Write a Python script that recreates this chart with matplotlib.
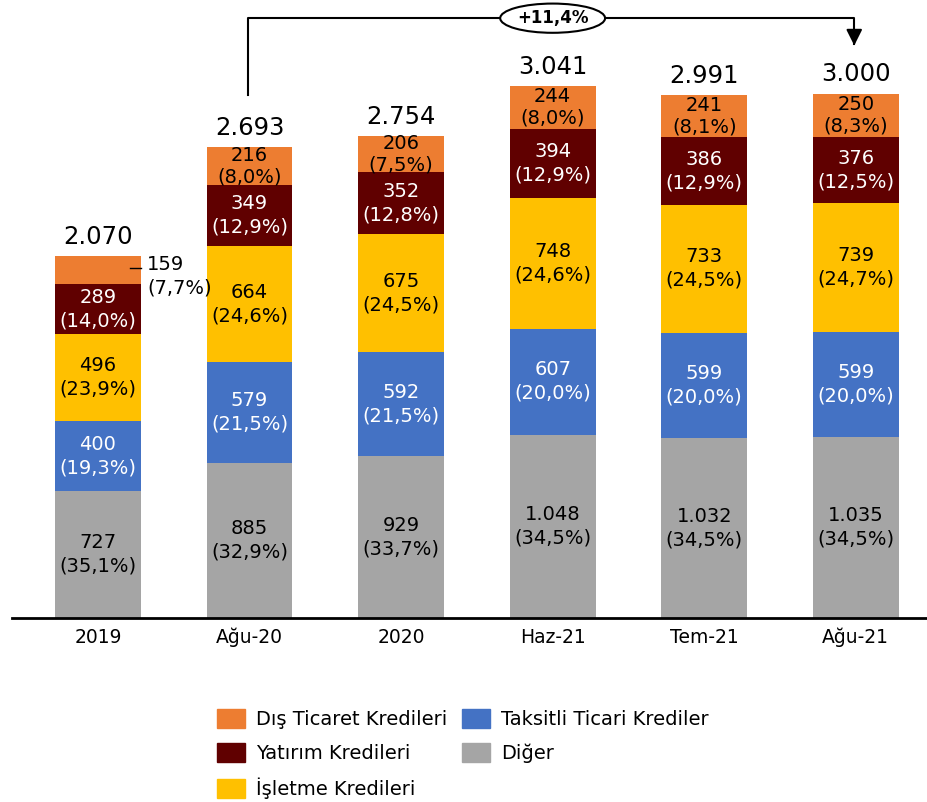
import matplotlib
matplotlib.use('Agg')
from matplotlib import pyplot as plt
from matplotlib.patches import Patch
import numpy as np

plt.rcParams['font.family'] = ['DejaVu Sans']

periods = ['2019', 'Ağu-20', '2020', 'Haz-21', 'Tem-21', 'Ağu-21']
totals = [2070, 2693, 2754, 3041, 2991, 3000]
total_labels = ['2.070', '2.693', '2.754', '3.041', '2.991', '3.000']

# bottom to top
series_names = ['Diğer', 'Taksitli Ticari Krediler', 'İşletme Kredileri',
                'Yatırım Kredileri', 'Dış Ticaret Kredileri']
diger = [727, 885, 929, 1048, 1032, 1035]
taksitli = [400, 579, 592, 607, 599, 599]
isletme = [496, 664, 675, 748, 733, 739]
yatirim = [289, 349, 352, 394, 386, 376]
dis = [159, 216, 206, 244, 241, 250]

diger_pct = ['35,1%', '32,9%', '33,7%', '34,5%', '34,5%', '34,5%']
taksitli_pct = ['19,3%', '21,5%', '21,5%', '20,0%', '20,0%', '20,0%']
isletme_pct = ['23,9%', '24,6%', '24,5%', '24,6%', '24,5%', '24,7%']
yatirim_pct = ['14,0%', '12,9%', '12,8%', '12,9%', '12,9%', '12,5%']
dis_pct = ['7,7%', '8,0%', '7,5%', '8,0%', '8,1%', '8,3%']

growth_label = '+11,4%'

series = [diger, taksitli, isletme, yatirim, dis]
pcts = [diger_pct, taksitli_pct, isletme_pct, yatirim_pct, dis_pct]
colors = ['#A5A5A5', '#4472C4', '#FFC000', '#600000', '#ED7D31']
text_colors = ['black', 'white', 'black', 'white', 'black']


def fmt(v):
    return f'{v:,}'.replace(',', '.')


fig = plt.figure(figsize=(9.27, 8.02), dpi=100)
ax = fig.add_axes([12 / 927, 184 / 802, 915 / 927, 618 / 802])

x = np.arange(len(periods))
width = 0.567
bottom = np.zeros(len(periods))
for vals, pc, col, tc in zip(series, pcts, colors, text_colors):
    vals = np.array(vals, dtype=float)
    ax.bar(x, vals, width, bottom=bottom, color=col, zorder=2)
    for i in range(len(x)):
        label = f'{fmt(int(vals[i]))}\n({pc[i]})'
        if col == '#ED7D31' and i == 0:
            # small slice: label outside with a leader line
            ymid = bottom[i] + vals[i] * 0.55
            ax.plot([x[i] + width / 2 - 0.07, x[i] + width / 2 + 0.0],
                    [ymid, ymid], color='black', lw=1)
            ax.text(x[i] + width / 2 + 0.04, bottom[i] + vals[i] / 2 - 35,
                    label, ha='left', va='center', fontsize=14,
                    color='black', linespacing=1.3)
        else:
            ls = 1.18 if col == '#ED7D31' else 1.3
            ax.text(x[i], bottom[i] + vals[i] / 2, label, ha='center',
                    va='center', fontsize=14, color=tc, linespacing=ls)
    bottom += vals

for i in range(len(x)):
    ax.text(x[i], totals[i] + 110, total_labels[i], ha='center',
            va='center', fontsize=17.5, color='black')

# growth bracket from Ağu-20 to Ağu-21
y_top = 3430
ax.plot([x[1] - 0.01, x[1] - 0.01, x[5] - 0.01, x[5] - 0.01],
        [totals[1] + 295, y_top, y_top, totals[5] + 280],
        color='black', lw=1.5, clip_on=False)
ax.annotate('', xy=(x[5] - 0.01, totals[5] + 258),
            xytext=(x[5] - 0.01, totals[5] + 340),
            arrowprops=dict(arrowstyle='-|>', color='black', lw=1.5,
                            mutation_scale=24), annotation_clip=False)
ax.text(x[3], y_top, growth_label, ha='center',
        va='center', fontsize=12, fontweight='bold',
        bbox=dict(boxstyle='ellipse,pad=0.08', fc='white', ec='black',
                  lw=1.5))

ax.set_xlim(-0.567, 5.47)
ax.set_ylim(0, 3534)
ax.set_xticks(x)
ax.set_xticklabels(periods, fontsize=13.5)
ax.tick_params(axis='x', length=0, pad=7)
ax.set_yticks([])
for side in ['left', 'right', 'top']:
    ax.spines[side].set_visible(False)
ax.spines['bottom'].set_linewidth(2)
ax.spines['bottom'].set_zorder(3)

handles = [Patch(color=colors[4]), Patch(color=colors[3]),
           Patch(color=colors[2]), Patch(color=colors[1]),
           Patch(color=colors[0])]
labels = [series_names[4], series_names[3], series_names[2],
          series_names[1], series_names[0]]
fig.legend(handles, labels, ncol=2, frameon=False, fontsize=14,
           loc='upper left', bbox_to_anchor=(199 / 927, 1 - 691 / 802),
           handlelength=1.44, handleheight=1.13, labelspacing=0.75,
           handletextpad=0.57, columnspacing=0.8)

plt.savefig('out.png', dpi=100)
